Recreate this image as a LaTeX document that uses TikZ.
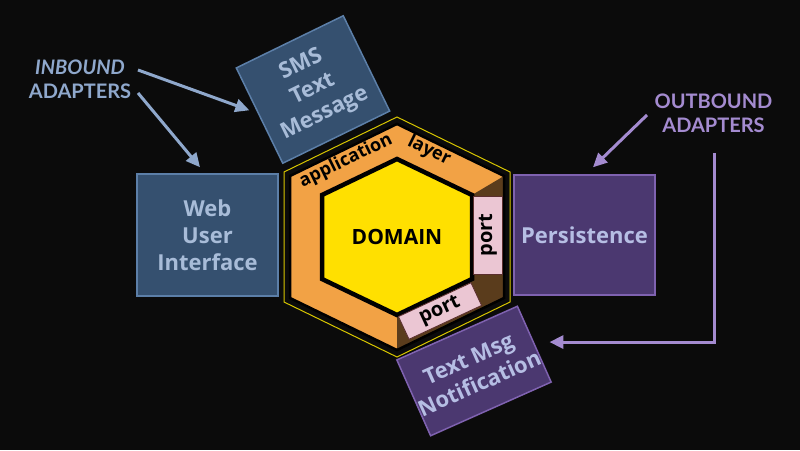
\documentclass[tikz,border=0pt]{standalone}
\usepackage{fontspec}
\setmainfont{Lato}
\newfontfamily\boxfont{Open Sans}
\usetikzlibrary{arrows.meta,calc}
\definecolor{bg}{HTML}{0B0B0B}
\definecolor{hexline}{HTML}{D8C600}
\definecolor{appor}{HTML}{F2A245}
\definecolor{brownp}{HTML}{5A3C1C}
\definecolor{domy}{HTML}{FFE000}
\definecolor{pinkp}{HTML}{EBC6D3}
\definecolor{pinkb}{HTML}{5A2E2E}
\definecolor{inf}{HTML}{35506F}
\definecolor{inb}{HTML}{5C7FA8}
\definecolor{intx}{HTML}{A8BCD8}
\definecolor{outf}{HTML}{4B3870}
\definecolor{outb}{HTML}{7F62B0}
\definecolor{outtx}{HTML}{B6BEE4}
\definecolor{inlab}{HTML}{8FA8CC}
\definecolor{outlab}{HTML}{A48BD0}
\tikzset{
  inbox/.style={draw=inb, fill=inf, line width=1.5pt, text=intx, align=center,
    font=\boxfont\bfseries\fontsize{22}{27}\selectfont, inner sep=0pt},
  outbox/.style={draw=outb, fill=outf, line width=1.5pt, text=outtx, align=center,
    font=\boxfont\bfseries\fontsize{22}{27}\selectfont, inner sep=0pt},
  portbox/.style={draw=pinkb, fill=pinkp, line width=0.8pt, text=black,
    font=\boxfont\bfseries\fontsize{20}{24}\selectfont, inner sep=0pt},
  applabel/.style={text=black, font=\boxfont\bfseries\fontsize{18}{20}\selectfont, inner sep=0pt},
  inlabel/.style={text=inlab, align=center, font=\bfseries\fontsize{20}{24}\selectfont, inner sep=0pt},
  outlabel/.style={text=outlab, align=center, font=\bfseries\fontsize{20}{24}\selectfont, inner sep=0pt},
  inarr/.style={draw=inlab, line width=3pt, -{Triangle[length=14pt,width=13pt]}},
  outarr/.style={draw=outlab, line width=3pt, -{Triangle[length=14pt,width=13pt]}}
}
\begin{document}
\begin{tikzpicture}[x=1pt,y=1pt]
\useasboundingbox (0,0) rectangle (800,450);
\fill[bg] (0,0) rectangle (800,450);

% hexagon layers
\draw[hexline, line width=1pt] (397,333) -- (510,278) -- (510,148) -- (397,93) -- (284,148) -- (284,278) -- cycle;
\fill[appor] (397,326) -- (504,274) -- (504,152) -- (397,100) -- (290,152) -- (290,274) -- cycle;
\fill[brownp] (472,255) -- (504,274) -- (504,152) -- (397,100) -- (397,135) -- (472,171) -- cycle;
\draw[black, line width=2.5pt, line join=miter] (397,326) -- (504,274) -- (504,152) -- (397,100) -- (290,152) -- (290,274) -- cycle;
\draw[black, fill=domy, line width=4.5pt, line join=miter] (397,291) -- (472,255) -- (472,171) -- (397,135) -- (322,171) -- (322,255) -- cycle;

\node[text=black, font=\boxfont\bfseries\fontsize{21}{24}\selectfont] (dom) at (397,213) {DOMAIN};
\node[applabel, rotate=26] (app) at (346,289) {application};
\node[applabel, rotate=-26] (lay) at (429,299) {layer};

\node[portbox, minimum width=78, minimum height=29, rotate=90] (portr) at (488,215) {port};
\node[portbox, minimum width=80, minimum height=25, rotate=25] (portb) at (440,139) {port};

% adapters
\node[inbox, minimum width=141, minimum height=122] (web) at (207.5,215) {Web\\User\\Interface};
\node[inbox, minimum width=119, minimum height=106, rotate=26] (sms) at (313,360.5) {SMS\\Text\\Message};
\node[outbox, minimum width=141, minimum height=120] (pers) at (584.5,215) {Persistence};
\node[outbox, minimum width=124, minimum height=83, rotate=24] (txt) at (474,79) {Text Msg\\Notification};

% labels
\node[inlabel] (inbl) at (80,371) {\textit{INBOUND}\\ADAPTERS};
\node[outlabel] (outbl) at (713.5,337) {OUTBOUND\\ADAPTERS};

% arrows
\coordinate (a1s) at (138,380);
\coordinate (a2s) at (138,357);
\coordinate (a3s) at (647,335);
\coordinate (a4s) at (714,297);
\draw[inarr] (a1s) -- ($(sms.west)+(-9.5,5.6)$);
\draw[inarr] (a2s) -- ($(web.north)+(-7.5,6)$);
\draw[outarr] (a3s) -- ($(pers.north)+(8.5,7)$);
\draw[outarr, line join=miter] (a4s) |- ($(txt.east)+(14.5,1.8)$);
\end{tikzpicture}
\end{document}
